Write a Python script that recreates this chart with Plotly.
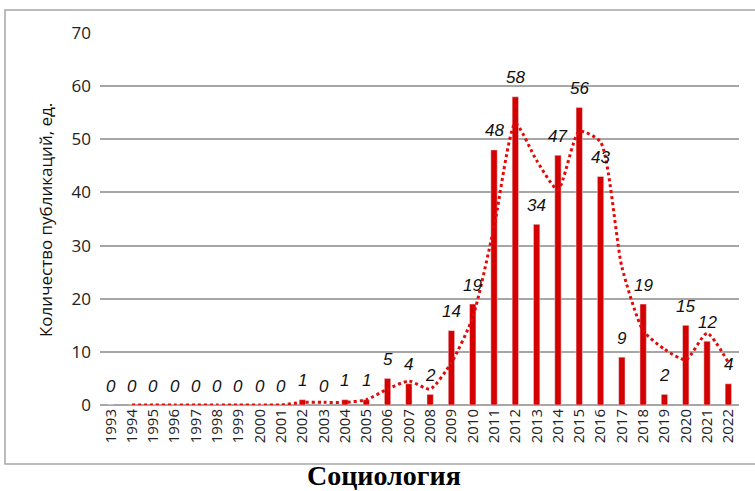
import plotly.graph_objects as go

years = list(range(1993, 2023))
counts = [0, 0, 0, 0, 0, 0, 0, 0, 0, 1, 0, 1, 1, 5, 4, 2, 14, 19, 48, 58,
          34, 47, 56, 43, 9, 19, 2, 15, 12, 4]
y_ticks = [0, 10, 20, 30, 40, 50, 60, 70]

# 2-period moving average trendline (Excel style), starts at second point
ma_x = years[1:]
ma_y = [(counts[i - 1] + counts[i]) / 2 for i in range(1, len(counts))]

L, R, T, B = 100, 16, 33, 86
W, H = 755, 491
pw, ph = W - L - R, H - T - B

fig = go.Figure()
fig.add_trace(go.Bar(x=years, y=counts, marker_color="#d50000", width=0.3,
                     hoverinfo="x+y"))
fig.add_trace(go.Scatter(x=ma_x, y=ma_y, mode="lines",
                         line=dict(color="#e30a0a", width=3, dash="dot", shape="spline", smoothing=0.6)))

for x, v in zip(years, counts):
    fig.add_annotation(x=x, y=v, text="<i>" + str(v) + "</i>", showarrow=False, yshift=19,
                       yanchor="middle", xanchor="center",
                       font=dict(family="Liberation Sans, Arial", size=17, color="#111"))

# outer border
fig.add_shape(type="rect", xref="paper", yref="paper",
              x0=(5 - L) / pw, x1=(756 - L) / pw,
              y0=(H - B - 464) / ph, y1=(H - B - 10) / ph,
              line=dict(color="#a6a6a6", width=1.5), layer="below")

fig.add_annotation(xref="paper", yref="paper", x=(384 - L) / pw, y=(H - B - 475) / ph,
                   text="<b>Социология</b>", showarrow=False, yanchor="middle",
                   font=dict(family="Liberation Serif, Times New Roman", size=28, color="#000"))

fig.add_annotation(xref="paper", yref="paper", x=(45 - L) / pw, y=(H - B - 220) / ph,
                   text="Количество публикаций, ед.", showarrow=False, textangle=-90,
                   xanchor="center", yanchor="middle",
                   font=dict(family="Open Sans, Liberation Sans", size=17, color="#111"))

fig.update_layout(
    width=W, height=H, margin=dict(l=L, r=R, t=T, b=B),
    paper_bgcolor="white", plot_bgcolor="white", showlegend=False,
    font=dict(family="Open Sans, Liberation Sans", color="#222"),
)
fig.update_xaxes(range=[1992.5, 2022.5], tickvals=years, ticktext=[str(y) for y in years],
                 tickangle=-90, tickfont=dict(size=15, color="#222"),
                 showgrid=False, showline=False, ticks="", zeroline=False)
fig.update_yaxes(range=[0, 70], tickvals=y_ticks, showgrid=True, gridcolor="#a6a6a6",
                 gridwidth=1.5, zeroline=True, zerolinecolor="#a6a6a6", zerolinewidth=1.5,
                 tickfont=dict(size=17, color="#222"), ticks="", ticklen=0,
                 ticklabelstandoff=8)

fig.write_html("out.html", config={"displayModeBar": False},
               post_script="document.body.style.margin='0';")
